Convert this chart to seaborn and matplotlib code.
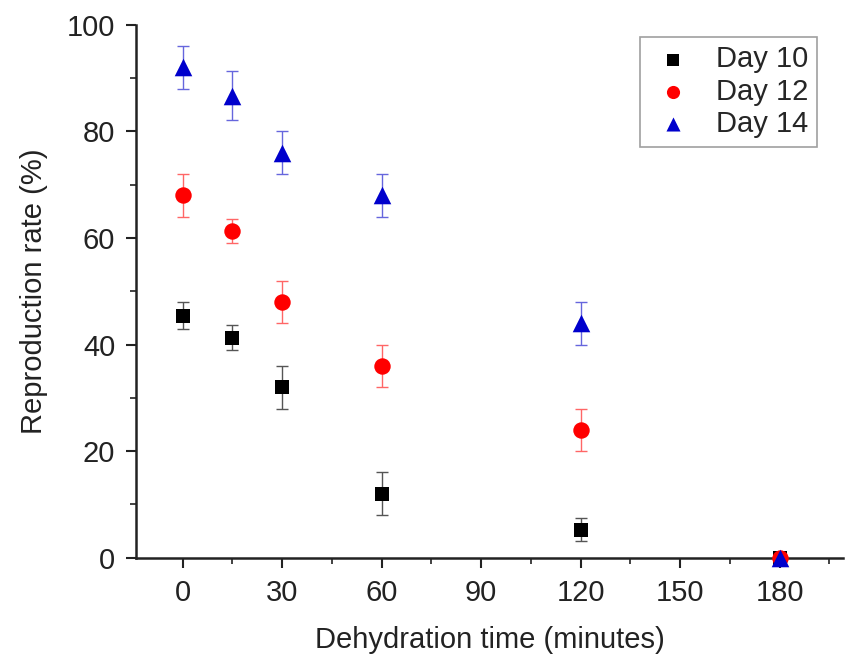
import numpy as np
import pandas as pd
import seaborn as sns
import matplotlib.pyplot as plt
from matplotlib.ticker import MultipleLocator

# --- data ---
times = [0, 15, 30, 60, 120, 180]
series = ['Day 10', 'Day 12', 'Day 14']
day10 = [45.4, 41.3, 32.0, 12.0, 5.3, 0.0]
day10_err = [2.5, 2.3, 4.0, 4.0, 2.2, 0.0]
day12 = [68.0, 61.3, 48.0, 36.0, 24.0, 0.0]
day12_err = [4.0, 2.3, 4.0, 4.0, 4.0, 0.0]
day14 = [92.0, 86.7, 76.0, 68.0, 44.0, 0.0]
day14_err = [4.0, 4.6, 4.0, 4.0, 4.0, 0.0]

df = pd.DataFrame({
    'time': times * 3,
    'rate': day10 + day12 + day14,
    'err': day10_err + day12_err + day14_err,
    'series': np.repeat(series, len(times)),
})

colors = {'Day 10': '#000000', 'Day 12': '#ff0000', 'Day 14': '#0000cc'}
err_colors = {'Day 10': '#555555', 'Day 12': '#ff6666', 'Day 14': '#6666dd'}
markers = {'Day 10': 's', 'Day 12': 'o', 'Day 14': '^'}
sizes = {'Day 10': 110, 'Day 12': 140, 'Day 14': 160}

sns.set_style('ticks')
plt.rcParams['font.family'] = ['Liberation Sans', 'DejaVu Sans']

fig = plt.figure(figsize=(8.46, 6.68), dpi=100)
ax = fig.add_axes([0.161, 0.165, 0.835, 0.798])

# error bars first, markers on top
for name in series:
    sub = df[df['series'] == name]
    ax.errorbar(sub['time'], sub['rate'], yerr=sub['err'], fmt='none',
                ecolor=err_colors[name], elinewidth=1, capsize=4, capthick=1,
                zorder=2)

for i, name in enumerate(series):
    sub = df[df['series'] == name]
    sns.scatterplot(data=sub, x='time', y='rate', ax=ax, color=colors[name],
                    marker=markers[name], s=sizes[name], linewidth=0,
                    label=name, zorder=3 + i, clip_on=False)

ax.set_xlim(-14, 199)
ax.set_ylim(0, 100)
ax.set_xticks([0, 30, 60, 90, 120, 150, 180])
ax.set_yticks([0, 20, 40, 60, 80, 100])
ax.xaxis.set_minor_locator(MultipleLocator(15))
ax.yaxis.set_minor_locator(MultipleLocator(10))
ax.tick_params(which='major', length=7, width=1.5, labelsize=21, colors='#222222', pad=8)
ax.tick_params(which='minor', length=4, width=1.2, colors='#222222')

sns.despine(ax=ax)
for side in ['left', 'bottom']:
    ax.spines[side].set_linewidth(1.8)
    ax.spines[side].set_color('#222222')

ax.set_xlabel('Dehydration time (minutes)', fontsize=21, color='#222222', labelpad=14)
ax.set_ylabel('Reproduction rate (%)', fontsize=21, color='#222222', labelpad=14)

leg = ax.legend(loc='upper right', bbox_to_anchor=(0.985, 1.005), fontsize=21,
                frameon=True, fancybox=False, edgecolor='#888888',
                handletextpad=0.7, handlelength=1.6, borderpad=0.3,
                labelspacing=0.15, markerscale=0.8)
leg.get_frame().set_linewidth(1.2)

fig.savefig('out.png', dpi=100)
